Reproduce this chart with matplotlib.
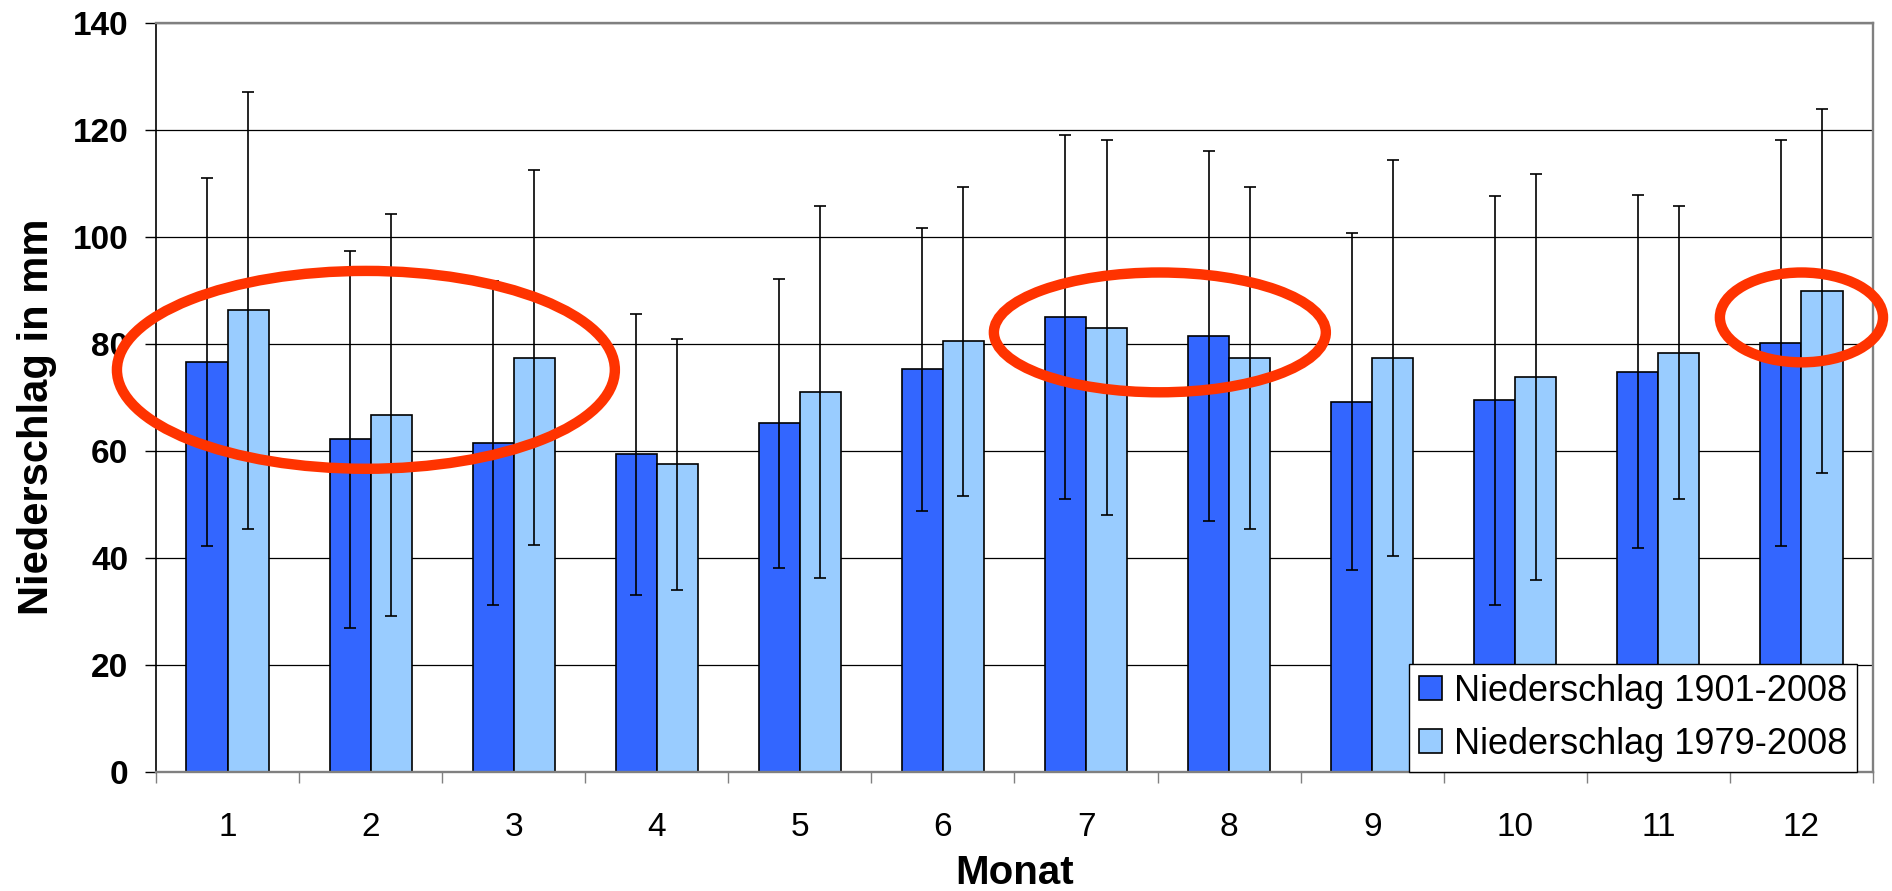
import numpy as np
import matplotlib
matplotlib.use("Agg")
import matplotlib.pyplot as plt
from matplotlib.patches import Ellipse

plt.rcParams['font.family'] = ['Liberation Sans', 'DejaVu Sans']

# Monthly precipitation means and standard deviations (mm)
months = [str(m) for m in range(1, 13)]
mean_1901 = [76.6, 62.2, 61.5, 59.4, 65.2, 75.3, 85.1, 81.5, 69.2, 69.5, 74.8, 80.2]
sd_1901 = [34.4, 35.3, 30.3, 26.3, 27.0, 26.5, 34.0, 34.6, 31.5, 38.2, 33.0, 38.0]
mean_1979 = [86.3, 66.8, 77.5, 57.5, 71.0, 80.5, 83.1, 77.4, 77.4, 73.9, 78.4, 90.0]
sd_1979 = [40.8, 37.6, 35.1, 23.5, 34.8, 28.8, 35.0, 32.0, 37.0, 38.0, 27.4, 34.0]
labels = ["Niederschlag 1901-2008", "Niederschlag 1979-2008"]

# highlighted regions: (centre month, centre mm, width in months, height in mm)
highlights = [(1.967, 75.2, 3.48, 37.0), (7.516, 82.2, 2.32, 22.4), (12.0, 85.0, 1.14, 16.8)]

fig = plt.figure(figsize=(18.92, 8.91), dpi=100)
ax = fig.add_axes([0.08245, 0.13356, 0.9075, 0.8403])

x = np.arange(1, 13)
w = 0.287
err_style = dict(ecolor="black", elinewidth=1.2, capsize=4.3, capthick=1.2)
ax.bar(x - w / 2, mean_1901, w, color="#3366FF", edgecolor="black", linewidth=1.2,
       label=labels[0], yerr=sd_1901, error_kw=err_style, zorder=2)
ax.bar(x + w / 2, mean_1979, w, color="#99CCFF", edgecolor="black", linewidth=1.2,
       label=labels[1], yerr=sd_1979, error_kw=err_style, zorder=2)

for cx, cy, ew, eh in highlights:
    ax.add_patch(Ellipse((cx, cy), ew, eh, fill=False, edgecolor="#FF3300",
                         linewidth=7.5, zorder=6, clip_on=False))

ax.set_xlim(0.5, 12.5)
ax.set_ylim(0, 140)
ax.set_yticks(np.arange(0, 141, 20))
ax.yaxis.grid(True, color="black", linewidth=0.9)
ax.set_axisbelow(True)

# ticks between the months, labels at the months
ax.set_xticks(np.arange(0.5, 12.6, 1))
ax.set_xticklabels([])
ax.set_xticks(x, minor=True)
ax.set_xticklabels(months, minor=True, fontsize=24)
ax.tick_params(axis="x", which="major", length=8, width=1.0, color="#808080")
ax.tick_params(axis="x", which="minor", length=0, pad=28.5)
ax.tick_params(axis="y", length=8, width=1.0, color="black", pad=12)
for t in ax.get_yticklabels():
    t.set_fontsize(24)
    t.set_fontweight("bold")

ax.spines["left"].set_color("black")
ax.spines["left"].set_linewidth(1.2)
for side in ["top", "right", "bottom"]:
    ax.spines[side].set_color("#808080")
    ax.spines[side].set_linewidth(1.7)

ax.set_xlabel("Monat", fontsize=29, fontweight="bold")
ax.xaxis.set_label_coords(0.5, -0.1100)
ax.set_ylabel("Niederschlag in mm", fontsize=30, fontweight="bold")
ax.yaxis.set_label_coords(-0.0577, 0.4748)

leg = ax.legend(loc="lower right", bbox_to_anchor=(0.9907, 0.0), borderaxespad=0,
                fontsize=26, frameon=True, fancybox=False, framealpha=1,
                edgecolor="black", handlelength=0.64, handleheight=0.64,
                handletextpad=0.33, labelspacing=0.5, borderpad=0.28)
leg.get_frame().set_linewidth(1.0)
leg.set_zorder(5)

plt.savefig("out.png", dpi=100)
